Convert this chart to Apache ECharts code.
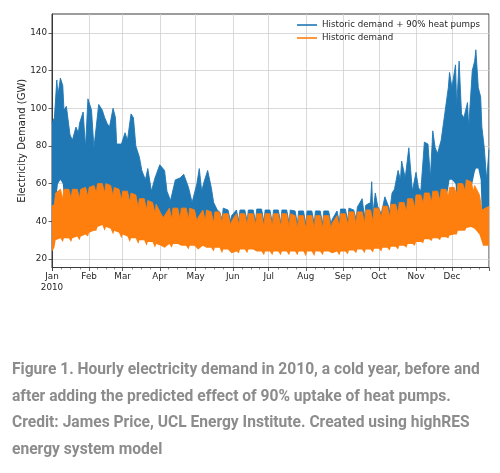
<!DOCTYPE html>
<html><head><meta charset="utf-8">
<script src="https://cdn.jsdelivr.net/npm/echarts@6/dist/echarts.min.js"></script>
<style>html,body{margin:0;padding:0;background:#fff;}#chart{width:500px;height:473px;}</style>
</head><body><div id="chart"></div>
<script>
// ---- tick labels ----
const monthLabels = ['Jan','Feb','Mar','Apr','May','Jun','Jul','Aug','Sep','Oct','Nov','Dec'];
const yearLabel = '2010';
const yTicks = [20, 40, 60, 80, 100, 120, 140];
const seriesNames = ['Historic demand + 90% heat pumps', 'Historic demand'];
const captionLines = [
  'Figure 1. Hourly electricity demand in 2010, a cold year, before and',
  'after adding the predicted effect of 90% uptake of heat pumps.',
  'Credit: James Price, UCL Energy Institute. Created using highRES',
  'energy system model'
];

// ---- Historic demand: envelope of hourly values (day of year, GW) ----
const orangeDays = [0,
  2,3,7, 9,10,14, 16,17,21, 23,24,28, 30,31,35, 37,38,42, 44,45,49, 51,52,56, 58,59,63, 65,66,70,
  72,73,77, 79,80,84, 86,87,91, 93,94,98, 100,101,105, 107,108,112, 114,115,119, 121,122,126, 128,129,133, 135,136,140,
  142,143,147, 149,150,154, 156,157,161, 163,164,168, 170,171,175, 177,178,182, 184,185,189, 191,192,196, 198,199,203, 205,206,210,
  212,213,217, 219,220,224, 226,227,231, 233,234,238, 240,241,245, 247,248,252, 254,255,259, 261,262,266, 268,269,273, 275,276,280,
  282,283,287, 289,290,294, 296,297,301, 303,304,308, 310,311,315, 317,318,322, 324,325,329, 331,332,336, 338,339,343, 345,346,350,
  352,353,357, 359,360,364.95];
const orangeHigh = [48,
  49,55,57, 52,57,57, 52,57,57, 52,57,58, 53,58,59, 55,60,60, 55,60,59, 53,58,57, 51,56,56, 50,55,54,
  47,52,52, 46,51,50, 44,49,44, 42,43,47, 41,47,47, 41,47,47, 41,47,46, 40,42,46, 40,46,45, 39,45,45,
  39,44,44, 38,40,44, 38,44,44, 38,44,44, 38,44,44, 37,44,44, 37,44,44, 37,44,44, 37,44,43, 36,43,43,
  36,43,43, 36,43,43, 36,43,43, 36,39,43, 37,44,44, 38,45,45, 38,45,45, 39,46,46, 40,47,47, 41,48,48,
  42,49,49, 44,50,50, 45,52,52, 47,54,54, 49,55,55, 50,56,56, 51,57,57, 53,58,58, 54,60,60, 56,62,61,
  56,59,54, 46,47,48];
const orangeLow = [24,
  26,30,31, 29,31,31, 29,31,32, 30,32,33, 32,34,35, 35,37,38, 35,37,36, 33,35,34, 31,33,32, 29,31,31,
  28,30,30, 27,29,29, 26,28,27, 25,26,28, 26,28,28, 26,27,27, 25,27,27, 25,25,27, 25,26,26, 24,26,26,
  23,25,25, 22,23,24, 23,25,25, 23,25,25, 23,24,24, 22,24,24, 22,24,24, 22,24,24, 22,24,24, 22,24,24,
  21.5,24,24, 21.5,24,24, 22,24,24, 22,23,24, 22,24,24, 22.5,24.5,24.5, 23,25,25, 23,25,25, 23.5,25.5,25.5, 24,26,26,
  24.5,26.5,26.5, 25,27,27, 26,28,28, 27,29,29, 28.5,30.5,30.5, 29.5,31,31, 30,31.5,31.5, 31,32.5,33, 33,35,35, 35,36.5,37,
  35,36,33, 27,27,27];

// ---- Historic demand + 90% heat pumps: envelope of hourly values ----
const blueDays = [0,2,4,5,7,9,10,12,15,17,20,22,23,26,28,30,33,35,39,42,44,46,48,51,53,54,58,61,63,66,68,70,73,75,78,80,83,86,90,94,96,99,
  103,107,110,114,117,121,123,125,127,130,133,135,138,140,
  142,143,147, 149,150,154, 156,157,161, 163,164,168, 170,171,175, 177,178,182, 184,185,189, 191,192,196, 198,199,203,
  205,206,210, 212,213,217, 219,220,224, 226,227,231, 233,234,238, 240,241,245, 247,248,252, 254,255,259, 261,262,266,
  267,268,270,272,275,278,281,282,284,286,289,291,292,295,298,301,304,306,308,311,314,316,318,320,322,325,328,
  331,332,334,337,338,340,342,344,347,348,351,353,354,356,358,359,361,363,364.95];
const blueHigh = [92,95,115,107,116,112,99,101,86,83,90,87,92,98,79,105,99,79,102,99,95,92,90,100,95,81,81,87,83,97,95,80,74,67,62,68,56,63,70,67,56,51,
  62,63,65,58,50,60,68,56,61,67,58,50,46,45,
  41,47,46, 40,43,46, 40,46,46, 40,46,46, 40,46.5,46.5, 39.5,46,46, 39,46,46, 39,46,46, 39,46,45.5,
  38.5,45.5,45.5, 38.5,45.5,45.5, 38.5,45.5,45.5, 38.5,45.5,45.5, 38.5,41,45.5, 39.5,46.5,46.5, 40.5,47,46, 41,47.5,52, 42,48.5,50,
  61,44,55,48,44,53,48,45,55,57,67,62,72,63,79,56,66,58,56,82,81,63,88,79,76,83,97,
  111,119,111,123,101,125,97,95,103,90,120,125,131,111,106,90,79,62,78];
const blueLow = [48,48,55,60,62,60,52,50,48,48,48,48,48,50,48,50,52,50,55,55,52,50,50,50,48,48,47,47,46,46,46,45,44,44,42,42,41,40,38,37,37,36,
  36,36,36,36,35,35,35,35,34,34,34,33,33,33,
  30,30,30, 30,30,30, 30,30,30, 30,30,30, 30,30,30, 30,30,30, 30,30,30, 30,30,30, 30,30,30,
  30,30,30, 30,30,30, 30,30,30, 30,30,30, 30,30,30, 30,31,31, 31,31,32, 32,32,33, 33,33,34,
  34,34,35,35,36,36,37,37,37,38,38,39,39,40,40,41,42,42,43,44,44,45,45,46,46,47,48,
  58,62,62,60,52,52,52,52,52,52,60,66,68,68,62,42,42,42,42];

// ---- build chart ----
const DAY = 86400000;
const t0 = new Date(2010, 0, 1).getTime();
const tOf = d => t0 + d * DAY;
const pairs = (days, vals) => days.map((d, i) => [tOf(d), vals[i]]);
const bands = (days, hi, lo) => days.map((d, i) => [tOf(d), hi[i] - lo[i]]);

const BLUE = '#1f77b4', ORANGE = '#ff7f0e';
const INK = '#262626', FRAME = '#3a3a3a', GRID = '#cfcfcf';
const plot = {left: 52, top: 14, width: 437, height: 253.5};
const yMin = 15.5, yMax = 150;
const k = plot.height / (yMax - yMin);

const chart = echarts.init(document.getElementById('chart'), null, {renderer: 'canvas'});
chart.setOption({
  animation: false,
  backgroundColor: '#ffffff',
  title: {
    text: captionLines.join('\n'),
    left: 12, top: 357, padding: 0,
    textStyle: {fontFamily: 'Roboto', fontWeight: 'bold', fontSize: 15.6, color: '#8c8c8c', lineHeight: 26.5}
  },
  legend: {
    data: seriesNames.map(n => ({name: n})),
    orient: 'vertical', left: 297, top: 19.5, padding: 0,
    icon: 'rect', itemWidth: 20, itemHeight: 1.6, itemGap: 2,
    textStyle: {fontFamily: 'DejaVu Sans', fontSize: 8.7, color: INK, lineHeight: 11}
  },
  grid: [
    {left: plot.left, top: plot.top, width: plot.width, height: plot.height, show: true, borderColor: FRAME, borderWidth: 1, backgroundColor: 'transparent'},
    {left: plot.left, top: plot.top + (yMax - yTicks[yTicks.length - 1]) * k, width: plot.width,
     height: (yTicks[yTicks.length - 1] - yTicks[0]) * k, show: false}
  ],
  xAxis: [
    {
      type: 'time', gridIndex: 0,
      min: tOf(0), max: new Date(2010, 11, 31, 23).getTime(),
      splitNumber: 12, minInterval: 28 * DAY, maxInterval: 31 * DAY,
      axisLine: {show: true, lineStyle: {color: FRAME, width: 1}},
      axisTick: {show: true, length: 3.5, lineStyle: {color: FRAME, width: 0.8}},
      minorTick: {show: true, splitNumber: 4, length: 2, lineStyle: {color: FRAME, width: 0.6}},
      splitLine: {show: true, lineStyle: {color: GRID, width: 0.8}},
      axisLabel: {
        color: INK, fontFamily: 'DejaVu Sans', fontSize: 8.8, margin: 4, lineHeight: 10.5,
        showMinLabel: true, showMaxLabel: false, hideOverlap: false,
        formatter: v => { const m = new Date(v).getMonth(); return m === 0 ? monthLabels[0] + '\n' + yearLabel : monthLabels[m]; }
      }
    },
    {type: 'value', gridIndex: 1, min: 0, max: 1, show: false}
  ],
  yAxis: [
    {
      type: 'value', gridIndex: 0, min: yMin, max: yMax,
      axisLine: {show: true, lineStyle: {color: FRAME, width: 1}},
      axisTick: {show: false}, axisLabel: {show: false}, splitLine: {show: false},
      name: 'Electricity Demand (GW)', nameLocation: 'middle', nameGap: 25,
      nameTextStyle: {fontFamily: 'DejaVu Sans', fontSize: 10, color: INK}
    },
    {
      type: 'value', gridIndex: 1, min: yTicks[0], max: yTicks[yTicks.length - 1], interval: yTicks[1] - yTicks[0],
      axisLine: {show: false},
      axisTick: {show: true, length: 3.5, lineStyle: {color: FRAME, width: 0.8}},
      axisLabel: {color: INK, fontFamily: 'DejaVu Sans', fontSize: 8.8, margin: 5},
      splitLine: {show: true, lineStyle: {color: GRID, width: 0.8}}
    }
  ],
  series: [
    {name: 'blueBase', type: 'line', stack: 'blue', xAxisIndex: 0, yAxisIndex: 0, data: pairs(blueDays, blueLow),
     symbol: 'none', silent: true, lineStyle: {width: 0, opacity: 0}, itemStyle: {color: BLUE}},
    {name: seriesNames[0], type: 'line', stack: 'blue', xAxisIndex: 0, yAxisIndex: 0, data: bands(blueDays, blueHigh, blueLow),
     symbol: 'none', color: BLUE, lineStyle: {width: 0.9, color: BLUE}, areaStyle: {color: BLUE, opacity: 1}},
    {name: 'orangeBase', type: 'line', stack: 'orange', xAxisIndex: 0, yAxisIndex: 0, data: pairs(orangeDays, orangeLow),
     symbol: 'none', silent: true, lineStyle: {width: 0, opacity: 0}, itemStyle: {color: ORANGE}},
    {name: seriesNames[1], type: 'line', stack: 'orange', xAxisIndex: 0, yAxisIndex: 0, data: bands(orangeDays, orangeHigh, orangeLow),
     symbol: 'none', color: ORANGE, lineStyle: {width: 0.9, color: ORANGE}, areaStyle: {color: ORANGE, opacity: 1}}
  ]
});
</script>
</body></html>
